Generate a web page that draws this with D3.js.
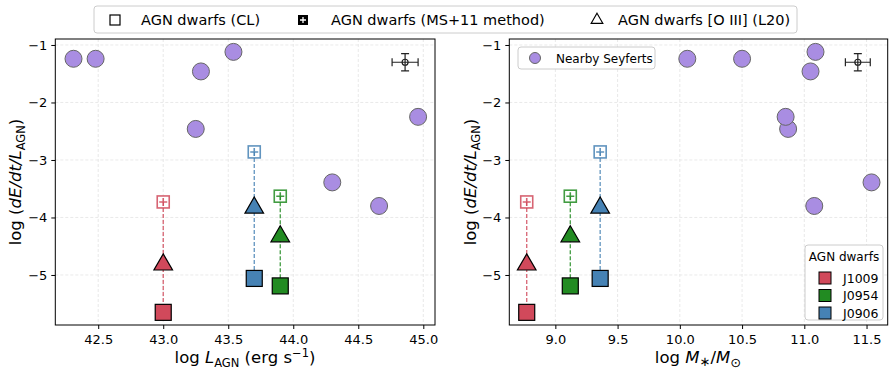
<!DOCTYPE html>
<html><head><meta charset="utf-8">
<script src="https://cdn.jsdelivr.net/npm/d3@7"></script>
<style>body{margin:0;background:#fff;} text{font-family:"DejaVu Sans",sans-serif;}</style>
</head><body>
<svg id="c" width="896" height="377"></svg>
<script>
// ---- data ----
const seyfertLogL   = [42.31, 42.48, 43.54, 43.29, 43.25, 44.96, 44.30, 44.66];
const seyfertLogM   = [10.06, 10.50, 11.09, 11.05, 10.87, 10.85, 11.54, 11.08];
const seyfertRatio  = [-1.24, -1.24, -1.12, -1.46, -2.46, -2.25, -3.39, -3.80];
const dwarfNames    = ["J1009", "J0954", "J0906"];
const dwarfColors   = ["#d1495b", "#228b22", "#4682b4"];
const dwarfLogL     = [43.0, 43.9, 43.7];
const dwarfLogM     = [8.77, 9.12, 9.36];
const dwarfCL       = [-3.73, -3.63, -2.86];
const dwarfMS11     = [-5.65, -5.19, -5.06];
const dwarfOIII     = [-4.82, -4.33, -3.83];
const errLeft  = {x: 44.86, y: -1.30, dx: 0.10, dy: 0.15};
const errRight = {x: 11.43, y: -1.30, dx: 0.10, dy: 0.15};
const xTicksL = [42.5, 43.0, 43.5, 44.0, 44.5, 45.0];
const xTicksR = [9.0, 9.5, 10.0, 10.5, 11.0, 11.5];
const yTicks  = [-1, -2, -3, -4, -5];
const legendItems = ["AGN dwarfs (CL)", "AGN dwarfs (MS+11 method)", "AGN dwarfs [O III] (L20)"];

const svg = d3.select("#c");
const yTop = 39, yBot = 325;
const y = d3.scaleLinear().domain([-0.896, -5.87]).range([yTop, yBot]);

function panel(x0, x1, domain, xTicks, xs, dx, err) {
  const x = d3.scaleLinear().domain(domain).range([x0, x1]);
  const g = svg.append("g");
  g.selectAll(".gx").data(xTicks).enter().append("line")
    .attr("x1", d => x(d)).attr("x2", d => x(d)).attr("y1", yTop).attr("y2", yBot)
    .attr("stroke", "#e3e3e3").attr("stroke-width", 0.8).attr("stroke-dasharray", "3,2");
  g.selectAll(".gy").data(yTicks).enter().append("line")
    .attr("x1", x0).attr("x2", x1).attr("y1", d => y(d)).attr("y2", d => y(d))
    .attr("stroke", "#e3e3e3").attr("stroke-width", 0.8).attr("stroke-dasharray", "3,2");
  const ax = g.append("g").attr("transform", `translate(0,${yBot})`)
    .call(d3.axisBottom(x).tickValues(xTicks).tickFormat(d3.format(".1f")).tickSizeOuter(0).tickSize(4));
  const ay = g.append("g").attr("transform", `translate(${x0},0)`)
    .call(d3.axisLeft(y).tickValues(yTicks).tickFormat(d => "\u2212" + Math.abs(d)).tickSizeOuter(0).tickSize(4));
  [ax, ay].forEach(a => {
    a.select(".domain").remove();
    a.selectAll("text").attr("font-size", 13).attr("fill", "#000").style("font-family", "DejaVu Sans");
    a.selectAll("line").attr("stroke", "#000");
  });
  ay.selectAll("text").attr("dx", -1);
  ax.selectAll("text").attr("dy", "0.9em");
  g.append("rect").attr("x", x0).attr("y", yTop).attr("width", x1 - x0).attr("height", yBot - yTop)
    .attr("fill", "none").attr("stroke", "#000").attr("stroke-width", 1);

  g.selectAll(".sey").data(seyfertRatio).enter().append("circle")
    .attr("cx", (d, i) => x(xs[i])).attr("cy", d => y(d)).attr("r", 8.5)
    .attr("fill", "#a98de2").attr("stroke", "#666").attr("stroke-width", 1);

  dwarfNames.forEach((n, i) => {
    const cx = x(dx[i]), c = dwarfColors[i];
    g.append("line").attr("x1", cx).attr("x2", cx).attr("y1", y(dwarfCL[i])).attr("y2", y(dwarfMS11[i]))
      .attr("stroke", c).attr("stroke-width", 1.3).attr("stroke-dasharray", "4,2").attr("opacity", 0.85);
    const ty = y(dwarfOIII[i]);
    g.append("path").attr("d", d3.symbol().type(d3.symbolTriangle).size(150)())
      .attr("transform", `translate(${cx},${ty})`)
      .attr("fill", c).attr("stroke", "#000").attr("stroke-width", 1.2);
    const sy = y(dwarfMS11[i]);
    g.append("rect").attr("x", cx - 8).attr("y", sy - 8).attr("width", 16).attr("height", 16)
      .attr("fill", c).attr("stroke", "#000").attr("stroke-width", 1.2);
    const oy = y(dwarfCL[i]);
    const og = g.append("g").attr("opacity", 0.85);
    og.append("rect").attr("x", cx - 6).attr("y", oy - 6).attr("width", 12).attr("height", 12)
      .attr("fill", "#fff").attr("stroke", c).attr("stroke-width", 1.6);
    og.append("path").attr("d", `M${cx - 4},${oy}H${cx + 4}M${cx},${oy - 4}V${oy + 4}`)
      .attr("stroke", c).attr("stroke-width", 1.6);
  });

  const ex = x(err.x), ey = y(err.y);
  const ex1 = x(err.x - err.dx), ex2 = x(err.x + err.dx), ey1 = y(err.y + err.dy), ey2 = y(err.y - err.dy);
  const eb = g.append("g").attr("stroke", "#222").attr("stroke-width", 1.2).attr("fill", "none");
  eb.append("path").attr("d", `M${ex1},${ey}H${ex2}M${ex},${ey1}V${ey2}M${ex1},${ey - 4}V${ey + 4}M${ex2},${ey - 4}V${ey + 4}M${ex - 4},${ey1}H${ex + 4}M${ex - 4},${ey2}H${ex + 4}`);
  eb.append("circle").attr("cx", ex).attr("cy", ey).attr("r", 3).attr("fill", "none");
  return x;
}

const xL = panel(55.3, 435, [42.17, 45.09], xTicksL, seyfertLogL, dwarfLogL, errLeft);
const xR = panel(509.3, 887.7, [8.63, 11.67], xTicksR, seyfertLogM, dwarfLogM, errRight);

function ylab(xpos) {
  const t = svg.append("text").attr("transform", `translate(${xpos},182) rotate(-90)`)
    .attr("text-anchor", "middle").attr("font-size", 16.5);
  t.append("tspan").text("log (");
  t.append("tspan").attr("font-style", "italic").text("dE/dt/L");
  t.append("tspan").attr("font-size", 11.5).attr("dy", 4).text("AGN");
  t.append("tspan").attr("dy", -4).text(")");
}
ylab(21); ylab(476);

{
  const t = svg.append("text").attr("x", 245).attr("y", 363).attr("text-anchor", "middle").attr("font-size", 16.5);
  t.append("tspan").text("log ");
  t.append("tspan").attr("font-style", "italic").text("L");
  t.append("tspan").attr("font-size", 11.5).attr("dy", 4).text("AGN");
  t.append("tspan").attr("dy", -4).text(" (erg s");
  t.append("tspan").attr("font-size", 11.5).attr("dy", -6).text("\u22121");
  t.append("tspan").attr("dy", 6).text(")");
}
{
  const t = svg.append("text").attr("x", 698).attr("y", 363).attr("text-anchor", "middle").attr("font-size", 16.5);
  t.append("tspan").text("log ");
  t.append("tspan").attr("font-style", "italic").text("M");
  t.append("tspan").attr("font-size", 13).attr("dy", 3).text("\u2217");
  t.append("tspan").attr("dy", -3).text("/");
  t.append("tspan").attr("font-style", "italic").text("M");
  t.append("tspan").attr("font-size", 13).attr("dy", 4).text("\u2299");
}

{
  const g = svg.append("g");
  g.append("rect").attr("x", 94).attr("y", 6).attr("width", 703).attr("height", 27).attr("rx", 3)
    .attr("fill", "#fff").attr("stroke", "#ccc").attr("stroke-width", 1);
  const mx = [115, 303, 597];
  const tx = [141, 331, 618];
  legendItems.forEach((s, i) => {
    g.append("text").attr("x", tx[i]).attr("y", 25).attr("font-size", 14.5).text(s);
  });
  const cy = 20;
  g.append("rect").attr("x", mx[0] - 5).attr("y", cy - 5).attr("width", 10).attr("height", 10)
    .attr("fill", "none").attr("stroke", "#000").attr("stroke-width", 1.2);
  g.append("rect").attr("x", mx[1] - 5).attr("y", cy - 5).attr("width", 10).attr("height", 10)
    .attr("fill", "#000");
  g.append("path").attr("d", `M${mx[1] - 3},${cy}H${mx[1] + 3}M${mx[1]},${cy - 3}V${cy + 3}`)
    .attr("stroke", "#fff").attr("stroke-width", 1.3);
  g.append("path").attr("d", d3.symbol().type(d3.symbolTriangle).size(60)())
    .attr("transform", `translate(${mx[2]},${cy})`).attr("fill", "none").attr("stroke", "#000").attr("stroke-width", 1.1);
}

{
  const g = svg.append("g");
  g.append("rect").attr("x", 518).attr("y", 47).attr("width", 137).attr("height", 22).attr("rx", 3)
    .attr("fill", "#fff").attr("stroke", "#ccc");
  g.append("circle").attr("cx", 535).attr("cy", 58).attr("r", 5.5).attr("fill", "#a98de2").attr("stroke", "#666");
  g.append("text").attr("x", 556).attr("y", 62.5).attr("font-size", 12).text("Nearby Seyferts");
}

{
  const g = svg.append("g");
  g.append("rect").attr("x", 805).attr("y", 245).attr("width", 78).attr("height", 75).attr("rx", 3)
    .attr("fill", "#fff").attr("stroke", "#ccc");
  g.append("text").attr("x", 844).attr("y", 261).attr("text-anchor", "middle").attr("font-size", 12).text("AGN dwarfs");
  dwarfNames.forEach((n, i) => {
    const yy = 278 + i * 17.5;
    g.append("rect").attr("x", 819).attr("y", yy - 6).attr("width", 12).attr("height", 12)
      .attr("fill", dwarfColors[i]).attr("stroke", "#000").attr("stroke-width", 1);
    g.append("text").attr("x", 843).attr("y", yy + 4.5).attr("font-size", 12.5).text(n);
  });
}
</script>
</body></html>
